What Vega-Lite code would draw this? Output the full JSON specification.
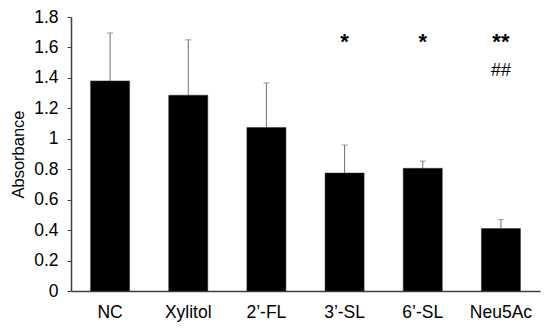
{
  "$schema": "https://vega.github.io/schema/vega-lite/v6.json",
  "width": 469,
  "height": 274,
  "autosize": {"type": "none"},
  "padding": {"left": 71, "top": 17, "right": 10, "bottom": 38},
  "background": "white",
  "config": {
    "view": {"stroke": null},
    "font": "Liberation Sans"
  },
  "data": {
    "values": [
      {"group": "NC", "mean": 1.38, "upper": 1.695, "sig": "", "sig2": ""},
      {"group": "Xylitol", "mean": 1.286, "upper": 1.65, "sig": "", "sig2": ""},
      {"group": "2’-FL", "mean": 1.074, "upper": 1.367, "sig": "", "sig2": ""},
      {"group": "3’-SL", "mean": 0.775, "upper": 0.959, "sig": "*", "sig2": ""},
      {"group": "6’-SL", "mean": 0.806, "upper": 0.854, "sig": "*", "sig2": ""},
      {"group": "Neu5Ac", "mean": 0.41, "upper": 0.469, "sig": "**", "sig2": "##"}
    ]
  },
  "encoding": {
    "x": {
      "field": "group",
      "type": "nominal",
      "sort": null,
      "scale": {"paddingInner": 0.5, "paddingOuter": 0.25},
      "axis": {
        "title": null,
        "labelAngle": 0,
        "labelFontSize": 17.5,
        "labelColor": "black",
        "labelPadding": 12,
        "labelOverlap": false,
        "ticks": false,
        "domainColor": "#404040",
        "domainWidth": 1.5
      }
    },
    "y": {
      "field": "mean",
      "type": "quantitative",
      "scale": {"domain": [0, 1.8], "nice": false},
      "axis": {
        "title": "Absorbance",
        "titleFontSize": 16.5,
        "titleFontWeight": "normal",
        "titleColor": "black",
        "titlePadding": 7,
        "values": [0, 0.2, 0.4, 0.6, 0.8, 1, 1.2, 1.4, 1.6, 1.8],
        "format": "~g",
        "labelOverlap": false,
        "labelFontSize": 17.5,
        "labelColor": "black",
        "labelPadding": 9,
        "tickSize": 4,
        "tickColor": "#404040",
        "domainColor": "#404040",
        "domainWidth": 1.5,
        "grid": false
      }
    }
  },
  "layer": [
    {
      "mark": {"type": "rule", "color": "#707070", "strokeWidth": 1},
      "encoding": {
        "y2": {"field": "upper"}
      }
    },
    {
      "mark": {"type": "tick", "orient": "horizontal", "color": "#707070", "size": 6, "thickness": 1},
      "encoding": {
        "y": {"field": "upper", "type": "quantitative"}
      }
    },
    {
      "mark": {"type": "bar", "color": "black", "stroke": "#303030", "strokeWidth": 0.5},
      "encoding": {}
    },
    {
      "mark": {"type": "text", "fontSize": 22, "fontWeight": "bold", "color": "black", "baseline": "middle", "dy": 4},
      "encoding": {
        "y": {"datum": 1.66, "type": "quantitative"},
        "text": {"field": "sig"}
      }
    },
    {
      "mark": {"type": "text", "fontSize": 18, "color": "black", "baseline": "middle"},
      "encoding": {
        "y": {"datum": 1.445, "type": "quantitative"},
        "text": {"field": "sig2"}
      }
    }
  ]
}
